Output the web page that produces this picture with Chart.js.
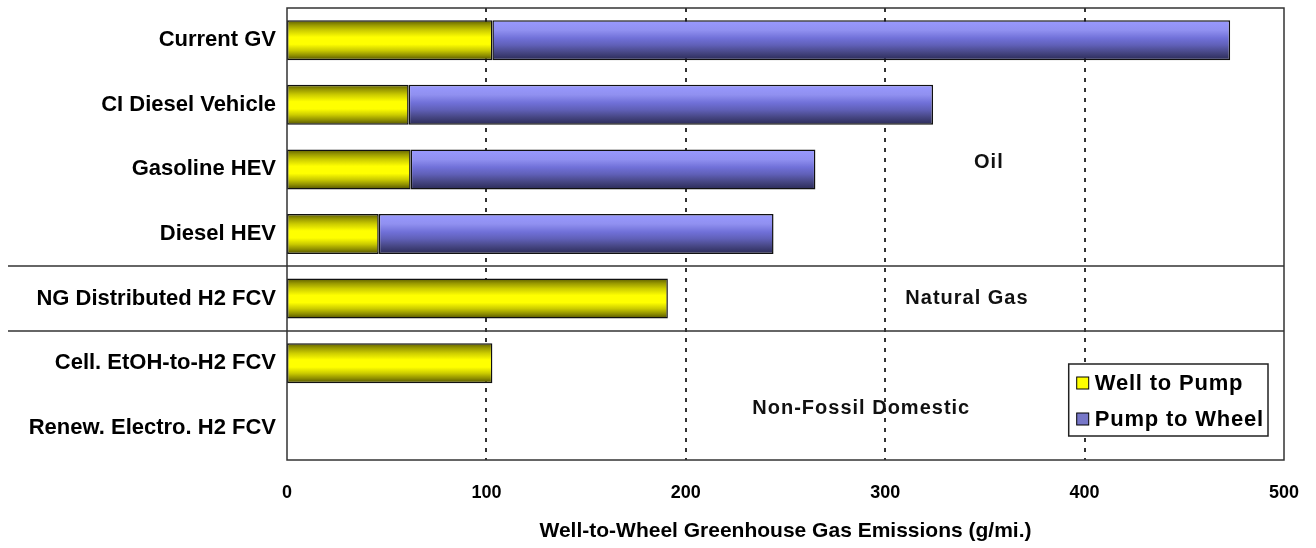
<!DOCTYPE html>
<html>
<head>
<meta charset="utf-8">
<script src="https://cdn.jsdelivr.net/npm/chart.js@4/dist/chart.umd.min.js"></script>
<style>
  html, body { margin: 0; padding: 0; background: #fff; }
  #wrap { width: 1316px; height: 548px; }
</style>
</head>
<body>
<div id="wrap"><canvas id="chart"></canvas></div>
<script>
// data (g/mi.)
const vehicles = ['Current GV', 'CI Diesel Vehicle', 'Gasoline HEV', 'Diesel HEV',
  'NG Distributed H2 FCV', 'Cell. EtOH-to-H2 FCV', 'Renew. Electro. H2 FCV'];
const wellToPump = [103, 61, 62, 46, 191, 103, 0];
const pumpToWheel = [370, 263, 203, 198, 0, 0, 0];
const xTicks = [0, 100, 200, 300, 400, 500];

// feedstock groups: text, x value, category position
const groupNames = ['Oil', 'Natural Gas', 'Non-Fossil Domestic'];
const groupX = [352, 341, 288];
const groupAt = [1.9, 4, 5.7];
const groupBreaks = [3.5, 4.5];

const FONT = '"Liberation Sans", Arial, sans-serif';
const BAR_PCT = 0.62;

function barGradient(ctx, stops, fallback) {
  const chart = ctx.chart;
  const y = chart.scales && chart.scales.y;
  if (!y || !chart.chartArea) return fallback;
  const c = y.getPixelForValue(ctx.dataIndex);
  const h = (y.bottom - y.top) / vehicles.length * BAR_PCT / 2;
  const g = chart.ctx.createLinearGradient(0, c - h, 0, c + h);
  stops.forEach(s => g.addColorStop(s[0], s[1]));
  return g;
}

const yellowStops = [[0, '#5c5c00'], [0.12, '#999900'], [0.25, '#cccc00'], [0.42, '#ffff00'],
  [0.6, '#ffff00'], [0.75, '#cccc00'], [0.88, '#8f8f00'], [1, '#4d4d00']];
const blueStops = [[0, '#9999ff'], [0.25, '#9090f0'], [0.45, '#7070d8'], [0.62, '#6060b8'],
  [0.8, '#474785'], [1, '#2a2a55']];

const extras = {
  id: 'extras',
  beforeDatasetsDraw(chart) {
    const { ctx, chartArea: a, scales: { x } } = chart;
    ctx.save();
    // dashed grid
    ctx.strokeStyle = '#333';
    ctx.lineWidth = 2;
    ctx.setLineDash([4, 6]);
    xTicks.slice(1, -1).forEach(v => {
      const px = Math.round(x.getPixelForValue(v));
      ctx.beginPath();
      ctx.moveTo(px, a.top);
      ctx.lineTo(px, a.bottom);
      ctx.stroke();
    });
    ctx.restore();
  },
  afterDatasetsDraw(chart) {
    const { ctx, chartArea: a, scales: { x, y } } = chart;
    ctx.save();
    // frame
    ctx.strokeStyle = '#333';
    ctx.lineWidth = 1.5;
    ctx.strokeRect(a.left, a.top, a.right - a.left, a.bottom - a.top);
    // group separators
    groupBreaks.forEach(v => {
      const py = Math.round(y.getPixelForValue(v));
      ctx.beginPath();
      ctx.moveTo(8, py);
      ctx.lineTo(a.right, py);
      ctx.stroke();
    });
    // group labels
    ctx.fillStyle = '#111';
    ctx.font = 'bold 20px ' + FONT;
    ctx.letterSpacing = '1px';
    ctx.textAlign = 'center';
    ctx.textBaseline = 'middle';
    groupNames.forEach((t, i) => {
      ctx.fillText(t, x.getPixelForValue(groupX[i]), y.getPixelForValue(groupAt[i]));
    });
    // legend box
    const items = chart.data.datasets.map(d => d.label);
    ctx.font = 'bold 22px ' + FONT;
    ctx.letterSpacing = '0.8px';
    const tw = Math.max(...items.map(t => ctx.measureText(t).width));
    const bw = tw + 30, bh = 72;
    const bx = a.right - 16 - bw, by = a.bottom - 24 - bh;
    ctx.fillStyle = '#fff';
    ctx.fillRect(bx, by, bw, bh);
    ctx.strokeStyle = '#222';
    ctx.lineWidth = 1.5;
    ctx.strokeRect(bx, by, bw, bh);
    const swatch = ['#ffff00', '#7777c8'];
    items.forEach((t, i) => {
      const cy = by + 19 + i * 36;
      ctx.fillStyle = swatch[i];
      ctx.fillRect(bx + 8, cy - 6, 12, 12);
      ctx.lineWidth = 1;
      ctx.strokeStyle = '#000';
      ctx.strokeRect(bx + 8, cy - 6, 12, 12);
      ctx.fillStyle = '#000';
      ctx.textAlign = 'left';
      ctx.fillText(t, bx + 26, cy + 1);
    });
    ctx.restore();
  }
};

new Chart(document.getElementById('chart'), {
  type: 'bar',
  data: {
    labels: vehicles,
    datasets: [
      {
        label: 'Well to Pump',
        data: wellToPump,
        backgroundColor: c => barGradient(c, yellowStops, '#ffff00'),
        borderColor: '#111',
        borderWidth: 1.5,
        borderSkipped: false
      },
      {
        label: 'Pump to Wheel',
        data: pumpToWheel,
        backgroundColor: c => barGradient(c, blueStops, '#7777c8'),
        borderColor: '#111',
        borderWidth: 1.5,
        borderSkipped: false
      }
    ]
  },
  options: {
    indexAxis: 'y',
    responsive: true,
    maintainAspectRatio: false,
    animation: false,
    layout: { padding: { top: 8, right: 32, left: 0, bottom: 0 } },
    datasets: { bar: { categoryPercentage: 1, barPercentage: BAR_PCT } },
    scales: {
      x: {
        stacked: true,
        min: 0,
        max: 500,
        afterBuildTicks: s => { s.ticks = xTicks.map(v => ({ value: v })); },
        afterFit: s => { s.height = 88; s.paddingLeft = 0; s.paddingRight = 0; },
        grid: { display: false, drawTicks: false },
        border: { display: false },
        ticks: { color: '#000', padding: 22, font: { family: FONT, size: 18, weight: 'bold' } },
        title: {
          display: true,
          text: 'Well-to-Wheel Greenhouse Gas Emissions (g/mi.)',
          color: '#000',
          padding: { top: 4 },
          font: { family: FONT, size: 21, weight: 'bold' }
        }
      },
      y: {
        stacked: true,
        afterFit: s => { s.width = 287; s.paddingTop = 0; s.paddingBottom = 0; },
        grid: { display: false, drawTicks: false },
        border: { display: false },
        ticks: { color: '#000', padding: 11, font: { family: FONT, size: 22, weight: 'bold' } }
      }
    },
    plugins: {
      legend: { display: false },
      tooltip: { enabled: false }
    }
  },
  plugins: [extras]
});
</script>
</body>
</html>
